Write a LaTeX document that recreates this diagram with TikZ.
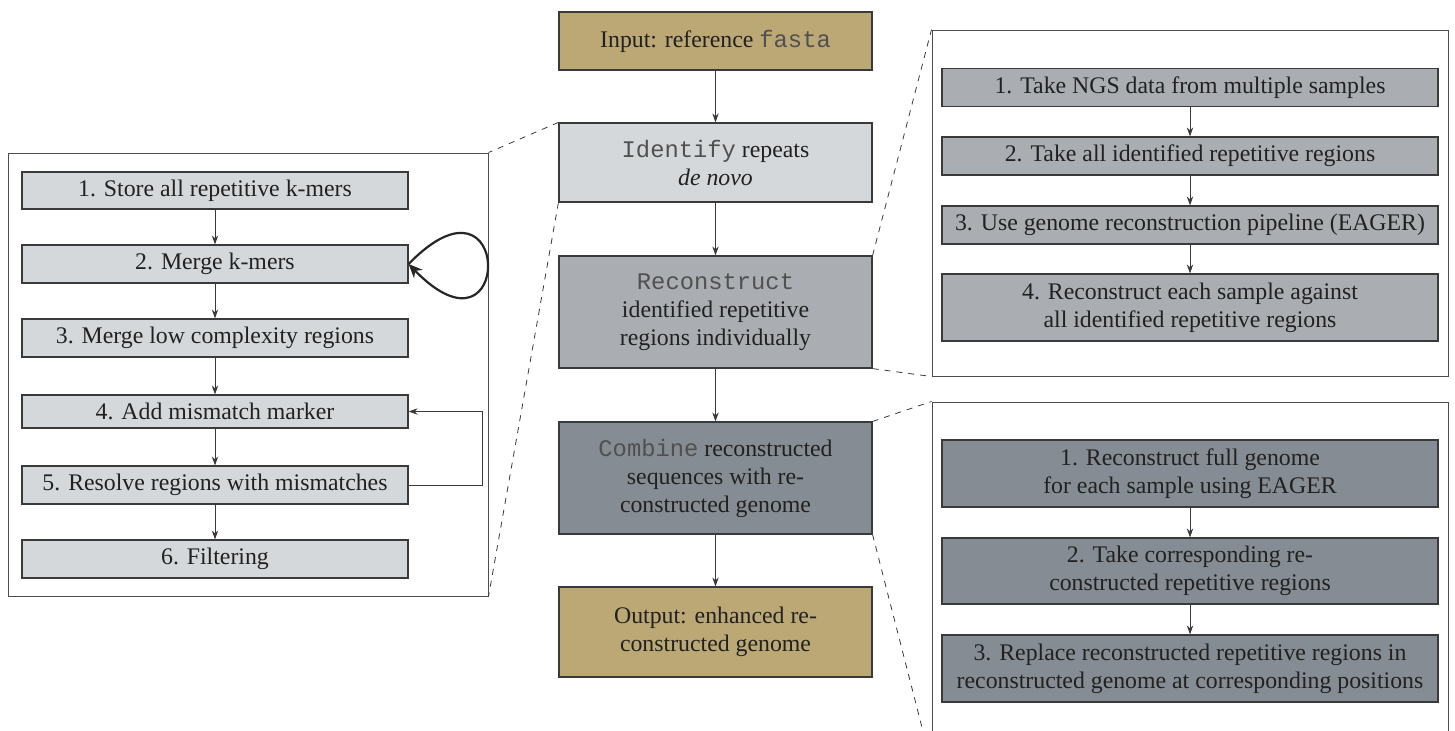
\documentclass[tikz,border=0pt]{standalone}
\usepackage{fontspec}
\setmainfont{Liberation Serif}
\setmonofont{Liberation Mono}
\usetikzlibrary{arrows.meta}
\definecolor{tan}{HTML}{BBA874}
\definecolor{lgray}{HTML}{D5D8DA}
\definecolor{mgray}{HTML}{AAAEB2}
\definecolor{dgray}{HTML}{858C93}
\definecolor{codegray}{HTML}{505050}
\definecolor{edge}{HTML}{3A3A3A}
\newcommand\mycode[1]{{\ttfamily\color{codegray}#1}}
\begin{document}
\begin{tikzpicture}[x=0.5pt,y=-0.5pt,
  font=\fontsize{11.9}{14}\selectfont,
  box/.style={draw=edge,line width=0.6pt,inner sep=0pt,align=center,text=black!87},
  mainbox/.style={box,minimum width=156.5pt},
  lbox/.style={box,fill=lgray,minimum width=193pt},
  rbox/.style={box,minimum width=248pt},
  outer/.style={draw=edge!90,line width=0.5pt,inner sep=0pt},
  arr/.style={draw=edge,line width=0.45pt,-{Stealth[length=4.5pt,width=3.2pt]}},
  zoomline/.style={draw=edge,line width=0.4pt,dash pattern=on 3pt off 3pt}]
\useasboundingbox (0,0) rectangle (1455,730);

% outer frames
\node[outer,minimum width=240pt,minimum height=221.5pt] (lout) at (248,374.5) {};
\node[outer,minimum width=258pt,minimum height=173pt] (rtop) at (1190,203) {};
\node[outer,minimum width=258pt,minimum height=181pt] (rbot) at (1190,583) {};

% main column
\node[mainbox,fill=tan,minimum height=29pt] (inp) at (715.5,41) {Input: reference \mycode{fasta}};
\node[mainbox,fill=lgray,minimum height=39.5pt] (ide) at (715.5,162.5) {\mycode{Identify} repeats\\\textit{de novo}};
\node[mainbox,fill=mgray,minimum height=56pt] (rec) at (715.5,312) {\mycode{Reconstruct}\\identified repetitive\\regions individually};
\node[mainbox,fill=dgray,minimum height=56pt] (com) at (715.5,478) {\mycode{Combine} reconstructed\\sequences with re-\\constructed genome};
\node[mainbox,fill=tan,minimum height=45pt] (out) at (715.5,632) {Output: enhanced re-\\constructed genome};

\draw[arr] (inp) -- (ide);
\draw[arr] (ide) -- (rec);
\draw[arr] (rec) -- (com);
\draw[arr] (com) -- (out);

% left detail
\node[lbox,minimum height=18.5pt] (l1) at (215,190.5) {1. Store all repetitive k-mers};
\node[lbox,minimum height=19pt] (l2) at (215,264) {2. Merge k-mers};
\node[lbox,minimum height=19pt] (l3) at (215,338) {3. Merge low complexity regions};
\node[lbox,minimum height=16.5pt] (l4) at (215,411.5) {4. Add mismatch marker};
\node[lbox,minimum height=19pt] (l5) at (215,485) {5. Resolve regions with mismatches};
\node[lbox,minimum height=19pt] (l6) at (215,559) {6. Filtering};

\draw[arr] (l1) -- (l2);
\draw[arr] (l2) -- (l3);
\draw[arr] (l3) -- (l4);
\draw[arr] (l4) -- (l5);
\draw[arr] (l5) -- (l6);
\draw[draw=black!85,line width=1.1pt,-{Stealth[length=7pt,width=6pt]}] (l2.east) .. controls +(105,-108) and +(105,108) .. (l2.east);
\draw[arr] (l5.east) -- ++(74,0) |- (l4.east);

% right top detail
\node[rbox,fill=mgray,minimum height=19pt] (r1) at (1190,87.5) {1. Take NGS data from multiple samples};
\node[rbox,fill=mgray,minimum height=19pt] (r2) at (1190,156) {2. Take all identified repetitive regions};
\node[rbox,fill=mgray,minimum height=19pt] (r3) at (1190,225) {3. Use genome reconstruction pipeline (EAGER)};
\node[rbox,fill=mgray,minimum height=33.5pt] (r4) at (1190,307.5) {4. Reconstruct each sample against\\all identified repetitive regions};
\draw[arr] (r1) -- (r2);
\draw[arr] (r2) -- (r3);
\draw[arr] (r3) -- (r4);

% right bottom detail
\node[rbox,fill=dgray,minimum height=33.5pt] (s1) at (1190,473.5) {1. Reconstruct full genome\\for each sample using EAGER};
\node[rbox,fill=dgray,minimum height=33pt] (s2) at (1190,571) {2. Take corresponding re-\\constructed repetitive regions};
\node[rbox,fill=dgray,minimum height=33.5pt] (s3) at (1190,668.5) {3. Replace reconstructed repetitive regions in\\reconstructed genome at corresponding positions};
\draw[arr] (s1) -- (s2);
\draw[arr] (s2) -- (s3);

% zoom lines
\draw[zoomline] (ide.north west) -- (lout.north east);
\draw[zoomline] (ide.south west) -- (lout.south east);
\draw[zoomline] (rec.north east) -- (rtop.north west);
\draw[zoomline] (rec.south east) -- (rtop.south west);
\draw[zoomline] (com.north east) -- (rbot.north west);
\draw[zoomline] (com.south east) -- (rbot.south west);
\end{tikzpicture}
\end{document}
